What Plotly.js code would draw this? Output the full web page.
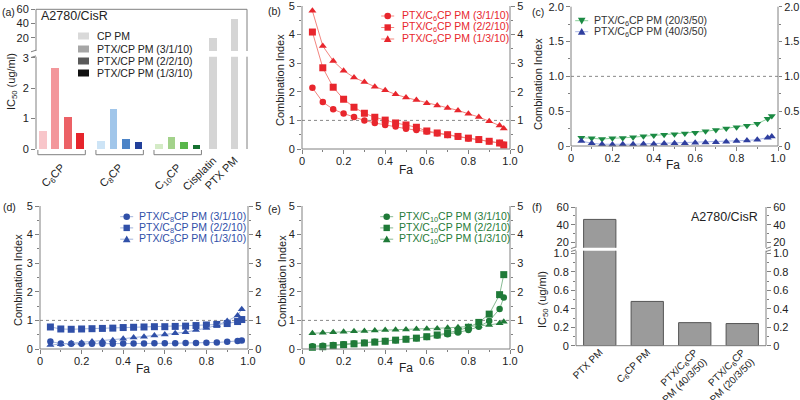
<!DOCTYPE html>
<html>
<head>
<meta charset="utf-8">
<script src="https://cdn.plot.ly/plotly-3.0.1.min.js"></script>
<style>body{margin:0}#myDiv{width:800px;height:400px}</style>
</head>
<body>
<div id="myDiv"></div>
<script>
// ---- data ----
// (a) IC50 bars
var aCats = ['C<sub>6</sub>CP', 'C<sub>8</sub>CP', 'C<sub>10</sub>CP'];
var aNames = ['CP PM', 'PTX/CP PM (3/1/10)', 'PTX/CP PM (2/2/10)', 'PTX/CP PM (1/3/10)'];
var cpPM = [0.58, 0.25, 0.18];
var ptx3110 = [2.66, 1.32, 0.41];
var ptx2210 = [1.06, 0.33, 0.22];
var ptx1310 = [0.52, 0.22, 0.14];
var aSingleCats = ['Cisplatin', 'PTX PM'];
var aSingleVals = [19.5, 47];

// combination index vs Fa
var fa = [0.05, 0.1, 0.15, 0.2, 0.25, 0.3, 0.35, 0.4, 0.45, 0.5, 0.55, 0.6, 0.65, 0.7, 0.75, 0.8, 0.85, 0.9, 0.95, 0.97];
var b3110 = [2.14, 1.64, 1.39, 1.24, 1.12, 1.0, 0.91, 0.84, 0.79, 0.71, 0.66, 0.61, 0.55, 0.49, 0.43, 0.37, 0.33, 0.27, 0.21, 0.15];
var b2210 = [4.09, 2.84, 2.16, 1.74, 1.46, 1.25, 1.11, 1.01, 0.91, 0.84, 0.76, 0.63, 0.56, 0.5, 0.44, 0.38, 0.33, 0.27, 0.21, 0.14];
var b1310 = [4.83, 3.6, 3.08, 2.74, 2.5, 2.34, 2.18, 2.05, 1.91, 1.8, 1.71, 1.6, 1.52, 1.43, 1.35, 1.23, 1.12, 0.97, 0.82, 0.72];
var c20350 = [0.12, 0.11, 0.1, 0.11, 0.115, 0.125, 0.14, 0.15, 0.16, 0.17, 0.18, 0.19, 0.21, 0.23, 0.25, 0.27, 0.29, 0.32, 0.39, 0.43];
var c40350 = [0.07, 0.04, 0.025, 0.02, 0.025, 0.025, 0.03, 0.03, 0.035, 0.04, 0.04, 0.045, 0.05, 0.055, 0.06, 0.07, 0.08, 0.09, 0.12, 0.135];
var d3110 = [0.26, 0.19, 0.18, 0.18, 0.18, 0.18, 0.18, 0.19, 0.19, 0.19, 0.2, 0.2, 0.2, 0.21, 0.21, 0.22, 0.23, 0.25, 0.28, 0.3];
var d2210 = [0.77, 0.7, 0.69, 0.7, 0.71, 0.72, 0.73, 0.75, 0.76, 0.77, 0.78, 0.78, 0.79, 0.8, 0.82, 0.84, 0.86, 0.89, 0.96, 1.03];
var d1310 = [0.14, 0.17, 0.2, 0.22, 0.26, 0.28, 0.31, 0.36, 0.4, 0.43, 0.47, 0.51, 0.55, 0.59, 0.66, 0.73, 0.83, 0.98, 1.17, 1.39];
var e3110 = [0.1, 0.11, 0.14, 0.17, 0.19, 0.22, 0.25, 0.28, 0.31, 0.35, 0.38, 0.42, 0.47, 0.52, 0.58, 0.66, 0.78, 0.98, 1.4, 1.8];
var e2210 = [0.06, 0.08, 0.12, 0.15, 0.18, 0.21, 0.24, 0.27, 0.31, 0.34, 0.38, 0.43, 0.49, 0.56, 0.65, 0.76, 0.93, 1.22, 1.9, 2.6];
var e1310 = [0.55, 0.57, 0.59, 0.6, 0.62, 0.63, 0.65, 0.66, 0.67, 0.68, 0.7, 0.71, 0.72, 0.74, 0.76, 0.78, 0.8, 0.84, 0.9, 0.95];

// (f) IC50 bars
var fCats = ['PTX PM', 'C6CP PM', 'PTX/C6CP PM (40/3/50)', 'PTX/C6CP PM (20/3/50)'];
var fTickText = ['PTX PM', 'C<sub>6</sub>CP PM', 'PTX/C<sub>6</sub>CP<br>PM (40/3/50)', 'PTX/C<sub>6</sub>CP<br>PM (20/3/50)'];
var fVals = [46, 0.48, 0.25, 0.24];

var faTicks = [0, 0.2, 0.4, 0.6, 0.8, 1];
var faTickText = ['0', '0.2', '0.4', '0.6', '0.8', '1.0'];

// ---- helpers ----
function px(v) { return v / 800; }
function py(v) { return 1 - v / 400; }
var GRAY = '#808080';
var FONT = 'Liberation Sans, Arial, sans-serif';

function ax(extra) {
    var base = {
        showline: false,
        ticks: 'outside', ticklen: 4, tickcolor: GRAY,
        tickfont: {size: 11, color: '#222'}, ticklabeloverflow: 'allow',
        zeroline: false, showgrid: false, fixedrange: true
    };
    return Object.assign(base, extra);
}
function minor(d) {
    return {dtick: d, ticks: 'outside', ticklen: 2, tickcolor: GRAY, showgrid: false};
}

var traces = [];

// (a) bars: positions per slot
var aGroupStart = [0.55, 5.2, 9.85];
var aSingleX = [14.2, 15.9];
var aColors = [
    ['#f8c6ca', '#cde4f6', '#d4ebc6'],
    ['#f3979b', '#a1c6ea', '#a3d28b'],
    ['#ec6166', '#4c84c7', '#59b64a'],
    ['#e6252c', '#22409a', '#14702f']
];
[cpPM, ptx3110, ptx2210, ptx1310].forEach(function (vals, i) {
    traces.push({
        type: 'bar', name: aNames[i], showlegend: false,
        x: aGroupStart.map(function (s) { return s + i; }), y: vals,
        width: 0.62, marker: {color: aColors[i]},
        xaxis: 'x7', yaxis: 'y'
    });
});
['y', 'y2'].forEach(function (ya) {
    traces.push({
        type: 'bar', showlegend: false, x: aSingleX, y: aSingleVals,
        width: 0.62, marker: {color: '#d5d5d5'}, xaxis: 'x', yaxis: ya
    });
});

function ciTrace(y, sym, xa, ya, mc, lc, name) {
    return {
        type: 'scatter', mode: 'lines+markers', name: name, showlegend: false,
        x: fa, y: y, xaxis: xa, yaxis: ya, cliponaxis: false,
        marker: {symbol: sym, size: sym === 'circle' ? 6.5 : 7, color: mc},
        line: {color: lc, width: 1}
    };
}
// the last series of each panel sits on the mirrored right axis (same range)
var RED = '#e8262d', REDL = '#f3857f';
traces.push(ciTrace(b3110, 'circle', 'x2', 'y3', RED, REDL, 'PTX/C6CP PM (3/1/10)'));
traces.push(ciTrace(b2210, 'square', 'x2', 'y3', RED, REDL, 'PTX/C6CP PM (2/2/10)'));
traces.push(ciTrace(b1310, 'triangle-up', 'x2', 'y4', RED, REDL, 'PTX/C6CP PM (1/3/10)'));
var CG = '#1b8a43', CGL = '#8ad09b', CB = '#2f3f9f', CBL = '#a9b7e6';
traces.push(ciTrace(c20350, 'triangle-down', 'x3', 'y5', CG, CGL, 'PTX/C6CP PM (20/3/50)'));
traces.push(ciTrace(c40350, 'triangle-up', 'x3', 'y6', CB, CBL, 'PTX/C6CP PM (40/3/50)'));
var DB = '#3050a8', DBL = '#a2b4dd';
traces.push(ciTrace(d3110, 'circle', 'x4', 'y7', DB, DBL, 'PTX/C8CP PM (3/1/10)'));
traces.push(ciTrace(d2210, 'square', 'x4', 'y7', DB, DBL, 'PTX/C8CP PM (2/2/10)'));
traces.push(ciTrace(d1310, 'triangle-up', 'x4', 'y8', DB, DBL, 'PTX/C8CP PM (1/3/10)'));
var EG = '#1f7a38', EGL = '#88bb94';
traces.push(ciTrace(e3110, 'circle', 'x5', 'y9', EG, EGL, 'PTX/C10CP PM (3/1/10)'));
traces.push(ciTrace(e2210, 'square', 'x5', 'y9', EG, EGL, 'PTX/C10CP PM (2/2/10)'));
traces.push(ciTrace(e1310, 'triangle-up', 'x5', 'y10', EG, EGL, 'PTX/C10CP PM (1/3/10)'));

// (f) bars: lower / upper segment of the broken axis; the last two bars
// ride on the mirrored right axes (same ranges) so those axes get drawn
[['y11', 'y13'], ['y12', 'y14']].forEach(function (p) {
    [[0, 2, p[0]], [2, 4, p[1]]].forEach(function (part) {
        traces.push({
            type: 'bar', showlegend: false,
            x: fCats.slice(part[0], part[1]), y: fVals.slice(part[0], part[1]), width: 0.68,
            marker: {color: '#9b9b9b', line: {color: '#555', width: 1}},
            xaxis: 'x6', yaxis: part[2]
        });
    });
});

// ---- shapes ----
var shapes = [];
function seg(x0, y0, x1, y1, xref) {
    shapes.push({type: 'line', xref: xref || 'paper', yref: 'paper', x0: x0, x1: x1, y0: y0, y1: y1,
        line: {color: GRAY, width: 1}});
}
function pseg(a, b, c, d) { seg(px(a), py(b), px(c), py(d)); }
// frames
pseg(36, 9.3, 247, 9.3);                                // (a) top
pseg(36, 9.3, 36, 51); pseg(36, 56.7, 36, 149);         // (a) left
pseg(247, 9.3, 247, 51); pseg(247, 56.7, 247, 149);     // (a) right
[[302, 510, 6, 149], [571, 778, 6.7, 146], [40, 248, 206, 349], [302, 510, 206, 349]].forEach(function (b) {
    pseg(b[0], b[2], b[0], b[3]); pseg(b[1], b[2], b[1], b[3]); pseg(b[0], b[3], b[1], b[3]);
});
pseg(576, 207, 576, 247.7); pseg(576, 250.7, 576, 345.7);
pseg(766, 207, 766, 247.7); pseg(766, 250.7, 766, 345.7);
pseg(576, 345.7, 766, 345.7);
// (a) brackets under the groups
aGroupStart.forEach(function (s) {
    var l = s - 0.4, r = s + 3.4;
    seg(l, py(154.7), r, py(154.7), 'x');
    seg(l, py(150), l, py(154.7), 'x');
    seg(r, py(150), r, py(154.7), 'x');
});
// axis break marks
[51, 56.7].forEach(function (v) { pseg(31, v + 0.8, 36, v - 0.8); });
[247.7, 250.7].forEach(function (v) { pseg(571, v + 0.8, 576, v - 0.8); pseg(766, v + 0.8, 771, v - 0.8); });
// CI = 1 reference lines
[['x2', 'y3'], ['x3', 'y5'], ['x4', 'y7'], ['x5', 'y9']].forEach(function (p) {
    shapes.push({type: 'line', layer: 'below', xref: p[0] + ' domain', yref: p[1], x0: 0, x1: 1, y0: 1, y1: 1,
        line: {color: '#888', width: 1, dash: 'dot'}});
});

// legend keys drawn as pixel-sized shapes
function key(cx, cy, sym, mc, lc) {
    var common = {xref: 'paper', yref: 'paper', xsizemode: 'pixel', ysizemode: 'pixel', xanchor: px(cx), yanchor: py(cy)};
    if (sym === 'box') {
        shapes.push(Object.assign({type: 'rect', x0: -5.5, x1: 5.5, y0: -3.5, y1: 3.5, fillcolor: mc, line: {width: 0}}, common));
        return;
    }
    shapes.push(Object.assign({type: 'line', x0: -6.5, x1: 6.5, y0: 0, y1: 0, line: {color: lc, width: 1}}, common));
    var s = {fillcolor: mc, line: {width: 0}};
    if (sym === 'circle') Object.assign(s, {type: 'circle', x0: -3.3, x1: 3.3, y0: -3.3, y1: 3.3});
    if (sym === 'square') Object.assign(s, {type: 'rect', x0: -3.2, x1: 3.2, y0: -3.2, y1: 3.2});
    if (sym === 'up') Object.assign(s, {type: 'path', path: 'M-3.8,-3L3.8,-3L0,3.8Z'});
    if (sym === 'down') Object.assign(s, {type: 'path', path: 'M-3.8,3L3.8,3L0,-3.8Z'});
    shapes.push(Object.assign(s, common));
}

// ---- annotations ----
var ann = [];
function txt(x, y, t, o) {
    ann.push(Object.assign({xref: 'paper', yref: 'paper', x: px(x), y: py(y), text: t, showarrow: false,
        xanchor: 'center', yanchor: 'middle', font: {size: 11, color: '#222'}}, o || {}));
}
function legendRows(kx, tx, ys, syms, mcs, lcs, labels, tcolor) {
    ys.forEach(function (y, i) {
        key(kx, y, syms[i], mcs[i], lcs[i]);
        txt(tx, y, labels[i], {xanchor: 'left', font: {size: 10.5, color: tcolor}});
    });
}

[['(a)', 0, 12], ['(b)', 266, 11], ['(c)', 530, 12], ['(d)', 1, 207], ['(e)', 266, 209], ['(f)', 530, 207]]
    .forEach(function (p) { txt(p[1], p[2], p[0], {xanchor: 'left', font: {size: 10.5, color: '#222'}}); });
txt(39, 16, 'A2780/CisR', {xanchor: 'left', font: {size: 12.5, color: '#222'}});
txt(760, 217, 'A2780/CisR', {xanchor: 'right', font: {size: 12.5, color: '#222'}});
txt(12, 82, 'IC<sub>50</sub> (ug/ml)', {textangle: -90});
txt(543, 300, 'IC<sub>50</sub> (ug/ml)', {textangle: -90});
txt(280, 80, 'Combination Index', {textangle: -90});
txt(538, 84, 'Combination Index', {textangle: -90});
txt(18, 280, 'Combination Index', {textangle: -90});
txt(282, 281, 'Combination Index', {textangle: -90});
txt(406, 170, 'Fa', {font: {size: 12, color: '#222'}});
txt(673, 165, 'Fa', {font: {size: 12, color: '#222'}});
txt(143, 369, 'Fa', {font: {size: 12, color: '#222'}});
txt(406, 368, 'Fa', {font: {size: 12, color: '#222'}});

legendRows(83.5, 95, [36, 49, 61, 73], ['box', 'box', 'box', 'box'],
    ['#d9d9d9', '#a6a6a6', '#5a5a5a', '#111'], [], aNames, '#222');
legendRows(387.7, 400, [16, 27.5, 39], ['circle', 'square', 'up'], [RED, RED, RED], [REDL, REDL, REDL],
    ['PTX/C<sub>6</sub>CP PM (3/1/10)', 'PTX/C<sub>6</sub>CP PM (2/2/10)', 'PTX/C<sub>6</sub>CP PM (1/3/10)'], RED);
legendRows(581.7, 591.7, [20.7, 31.7], ['down', 'up'], [CG, CB], [CGL, CBL],
    ['PTX/C<sub>6</sub>CP PM (20/3/50)', 'PTX/C<sub>6</sub>CP PM (40/3/50)'], '#333');
legendRows(126.7, 137.3, [216.7, 227.9, 239.2], ['circle', 'square', 'up'], [DB, DB, DB], [DBL, DBL, DBL],
    ['PTX/C<sub>8</sub>CP PM (3/1/10)', 'PTX/C<sub>8</sub>CP PM (2/2/10)', 'PTX/C<sub>8</sub>CP PM (1/3/10)'], DB);
legendRows(386.7, 397.3, [216.7, 227.9, 239.2], ['circle', 'square', 'up'], [EG, EG, EG], [EGL, EGL, EGL],
    ['PTX/C<sub>10</sub>CP PM (3/1/10)', 'PTX/C<sub>10</sub>CP PM (2/2/10)', 'PTX/C<sub>10</sub>CP PM (1/3/10)'], EG);

// ---- axes ----
var ciY = {range: [0, 5], tickmode: 'array', tickvals: [0, 1, 2, 3, 4, 5], minor: minor(0.5)};
var faX = {range: [0, 1], tickmode: 'array', tickvals: faTicks, ticktext: faTickText, minor: minor(0.1), ticklabelstandoff: -2};
var cY = {range: [0, 2], tickmode: 'array', tickvals: [0, 0.5, 1, 1.5, 2], ticktext: ['0', '0.5', '1.0', '1.5', '2.0'], minor: minor(0.25)};
var fLowY = {range: [0, 1.03], tickmode: 'array', tickvals: [0, 0.2, 0.4, 0.6, 0.8, 1],
    ticktext: ['0', '0.2', '0.4', '0.6', '0.8', '1.0'], minor: minor(0.1)};
var fUpY = {range: [14.1, 60], tickmode: 'array', tickvals: [20, 40, 60], minor: minor(10)};
var aGroupCenters = aGroupStart.map(function (s) { return s + 1.5; });

var layout = {
    width: 800, height: 400,
    margin: {l: 0, r: 0, t: 0, b: 0, autoexpand: false},
    paper_bgcolor: '#fff', plot_bgcolor: 'rgba(0,0,0,0)',
    font: {family: FONT, color: '#222'},
    showlegend: false, barmode: 'overlay', bargap: 0,
    // (a)
    xaxis: ax({domain: [px(36), px(247)], anchor: 'y', range: [0, 16.9], ticks: '',
        tickmode: 'array', tickvals: aSingleX, ticktext: aSingleCats, tickangle: -45, ticklabelstandoff: 2}),
    xaxis7: ax({overlaying: 'x', anchor: 'y', range: [0, 16.9], ticks: '',
        tickmode: 'array', tickvals: aGroupCenters, ticktext: aCats, tickangle: -45, ticklabelstandoff: 9}),
    yaxis: ax({domain: [py(149), py(56.7)], anchor: 'x', range: [0, 3.04], tickmode: 'array', tickvals: [0, 1, 2, 3]}),
    yaxis2: ax({domain: [py(51), py(9.3)], anchor: 'x', range: [1.3, 60], tickmode: 'array', tickvals: [20, 40, 60]}),
    // (b)
    xaxis2: ax(Object.assign({domain: [px(302), px(510)], anchor: 'y3'}, faX)),
    yaxis3: ax(Object.assign({domain: [py(149), py(6)], anchor: 'x2'}, ciY)),
    yaxis4: ax(Object.assign({overlaying: 'y3', side: 'right', anchor: 'x2'}, ciY)),
    // (c)
    xaxis3: ax(Object.assign({domain: [px(571), px(778)], anchor: 'y5'}, faX)),
    yaxis5: ax(Object.assign({domain: [py(146), py(6.7)], anchor: 'x3'}, cY)),
    yaxis6: ax(Object.assign({overlaying: 'y5', side: 'right', anchor: 'x3', ticklen: 3}, cY)),
    // (d)
    xaxis4: ax(Object.assign({domain: [px(40), px(248)], anchor: 'y7'}, faX)),
    yaxis7: ax(Object.assign({domain: [py(349), py(206)], anchor: 'x4'}, ciY)),
    yaxis8: ax(Object.assign({overlaying: 'y7', side: 'right', anchor: 'x4'}, ciY)),
    // (e)
    xaxis5: ax(Object.assign({domain: [px(302), px(510)], anchor: 'y9'}, faX)),
    yaxis9: ax(Object.assign({domain: [py(349), py(206)], anchor: 'x5'}, ciY)),
    yaxis10: ax(Object.assign({overlaying: 'y9', side: 'right', anchor: 'x5'}, ciY)),
    // (f)
    xaxis6: ax({domain: [px(576), px(766)], anchor: 'y11', type: 'category', ticks: '',
        categoryorder: 'array', categoryarray: fCats,
        tickmode: 'array', tickvals: fCats, ticktext: fTickText, tickangle: -45, ticklabelstandoff: -2,
        tickfont: {size: 10, color: '#222'}}),
    yaxis11: ax(Object.assign({domain: [py(345.7), py(250.7)], anchor: 'x6'}, fLowY)),
    yaxis12: ax(Object.assign({domain: [py(247.7), py(207)], anchor: 'x6'}, fUpY)),
    yaxis13: ax(Object.assign({overlaying: 'y11', side: 'right', anchor: 'x6'}, fLowY)),
    yaxis14: ax(Object.assign({overlaying: 'y12', side: 'right', anchor: 'x6'}, fUpY)),
    shapes: shapes,
    annotations: ann
};

Plotly.newPlot('myDiv', traces, layout, {staticPlot: true, displayModeBar: false});
</script>
</body>
</html>
